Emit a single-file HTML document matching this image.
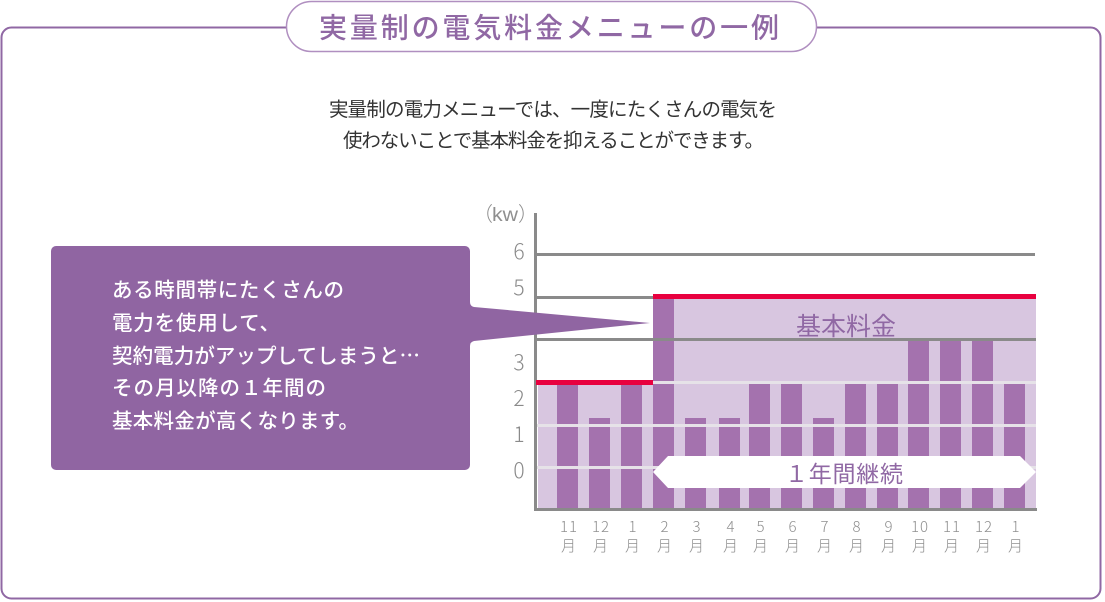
<!DOCTYPE html>
<html lang="ja"><head><meta charset="utf-8"><style>
html,body{margin:0;padding:0;background:#fff;width:1105px;height:602px;overflow:hidden}
svg{display:block}
text{font-family:"Liberation Sans","Noto Sans CJK JP",sans-serif}
.j{font-family:"Noto Sans CJK JP","Liberation Sans",sans-serif}
.ax{fill:#8a8a8a;font-size:21px;font-family:"Noto Sans CJK JP","Liberation Sans",sans-serif;font-weight:300}
.m{fill:#8f8f8f;font-size:15px;text-anchor:middle;font-family:"Noto Sans CJK JP","Liberation Sans",sans-serif;font-weight:300;letter-spacing:1px}
.c{fill:#fff;font-size:20.5px;font-weight:500}
</style></head><body>
<svg width="1105" height="602" viewBox="0 0 1105 602" xmlns="http://www.w3.org/2000/svg">
<rect x="1.5" y="27.5" width="1099" height="571" rx="10" fill="#fff" stroke="#9068a4" stroke-width="2"/>
<rect x="286.5" y="1.5" width="530" height="50" rx="25" fill="#fff" stroke="#b08fc0" stroke-width="1.5"/>
<text class="j" x="319" y="37.5" font-size="28" font-weight="500" fill="#9068a4" textLength="460" lengthAdjust="spacing">実量制の電気料金メニューの一例</text>
<text class="j" x="329" y="116" font-size="19.5" fill="#333" textLength="448" lengthAdjust="spacing">実量制の電力メニューでは、一度にたくさんの電気を</text>
<text class="j" x="343" y="147" font-size="19.5" fill="#333" textLength="421" lengthAdjust="spacing">使わないことで基本料金を抑えることができます。</text>

<rect x="538" y="384" width="115" height="124" fill="#d8c6e0"/>
<rect x="653" y="298" width="383" height="210" fill="#d8c6e0"/>
<g fill="#a472ae">
<rect x="557" y="384" width="21" height="124"/>
<rect x="589" y="418" width="21" height="90"/>
<rect x="621" y="384" width="21" height="124"/>
<rect x="653" y="298" width="21" height="210"/>
<rect x="685" y="418" width="21" height="90"/>
<rect x="719" y="418" width="21" height="90"/>
<rect x="749" y="384" width="21" height="124"/>
<rect x="781" y="384" width="21" height="124"/>
<rect x="813" y="418" width="21" height="90"/>
<rect x="845" y="384" width="21" height="124"/>
<rect x="877" y="384" width="21" height="124"/>
<rect x="908" y="341" width="21" height="167"/>
<rect x="940" y="341" width="21" height="167"/>
<rect x="972" y="341" width="21" height="167"/>
<rect x="1004" y="383" width="21" height="125"/>
</g>
<g fill="#e6e2e8">
<rect x="653" y="381" width="383" height="3"/>
<rect x="537" y="424" width="499" height="3"/>
<rect x="537" y="466" width="499" height="3"/>
</g>
<g fill="#8a8a8a">
<rect x="537" y="253" width="498" height="3"/>
<rect x="537" y="296" width="116" height="3"/>
<rect x="537" y="338" width="499" height="3"/>
<rect x="534" y="213" width="3" height="298"/>
<rect x="534" y="508" width="503" height="3"/>
</g>
<rect x="536" y="380" width="117" height="5" fill="#e8003f"/>
<rect x="653" y="294" width="383" height="5" fill="#e8003f"/>

<polygon points="653,472 668,456 1020,456 1036,472 1020,488 668,488" fill="#fff"/>
<text class="j" x="785" y="482" font-size="23" fill="#9068a4" textLength="118" lengthAdjust="spacing">１年間継続</text>
<text class="j" x="796" y="335" font-size="25" fill="#9068a4" textLength="100" lengthAdjust="spacing">基本料金</text>

<path d="M56 246H465a5 5 0 0 1 5 5V302q0 4 4 5L650 323 474 341q-4 1-4 5V465a5 5 0 0 1-5 5H56a5 5 0 0 1-5-5V251a5 5 0 0 1 5-5Z" fill="#9065a2"/>
<text class="j c" x="112" y="297" textLength="232" lengthAdjust="spacing">ある時間帯にたくさんの</text>
<text class="j c" x="112" y="330" textLength="168" lengthAdjust="spacing">電力を使用して、</text>
<text class="j c" x="112" y="363" textLength="308" lengthAdjust="spacing">契約電力がアップしてしまうと…</text>
<text class="j c" x="112" y="395" textLength="214" lengthAdjust="spacing">その月以降の１年間の</text>
<text class="j c" x="112" y="428" textLength="247" lengthAdjust="spacing">基本料金が高くなります。</text>

<text class="j" x="473" y="221" font-size="20" font-weight="300" fill="#8f8f8f">（</text>
<text x="492" y="221" font-size="19" fill="#8f8f8f" textLength="26" lengthAdjust="spacingAndGlyphs">kw</text>
<text class="j" x="518" y="221" font-size="20" font-weight="300" fill="#8f8f8f">）</text>
<g text-anchor="middle">
<text class="ax" x="519" y="259">6</text>
<text class="ax" x="519" y="295">5</text>
<text class="ax" x="519" y="370">3</text>
<text class="ax" x="519" y="406">2</text>
<text class="ax" x="519" y="442">1</text>
<text class="ax" x="519" y="478">0</text>
</g>
<g>
<text class="m" x="569" y="532">11</text><text class="j m" x="569" y="551">月</text>
<text class="m" x="601" y="532">12</text><text class="j m" x="601" y="551">月</text>
<text class="m" x="633" y="532">1</text><text class="j m" x="633" y="551">月</text>
<text class="m" x="665" y="532">2</text><text class="j m" x="665" y="551">月</text>
<text class="m" x="697" y="532">3</text><text class="j m" x="697" y="551">月</text>
<text class="m" x="731" y="532">4</text><text class="j m" x="731" y="551">月</text>
<text class="m" x="761" y="532">5</text><text class="j m" x="761" y="551">月</text>
<text class="m" x="793" y="532">6</text><text class="j m" x="793" y="551">月</text>
<text class="m" x="825" y="532">7</text><text class="j m" x="825" y="551">月</text>
<text class="m" x="857" y="532">8</text><text class="j m" x="857" y="551">月</text>
<text class="m" x="889" y="532">9</text><text class="j m" x="889" y="551">月</text>
<text class="m" x="920" y="532">10</text><text class="j m" x="920" y="551">月</text>
<text class="m" x="952" y="532">11</text><text class="j m" x="952" y="551">月</text>
<text class="m" x="984" y="532">12</text><text class="j m" x="984" y="551">月</text>
<text class="m" x="1016" y="532">1</text><text class="j m" x="1016" y="551">月</text>
</g>
</svg>
</body></html>
